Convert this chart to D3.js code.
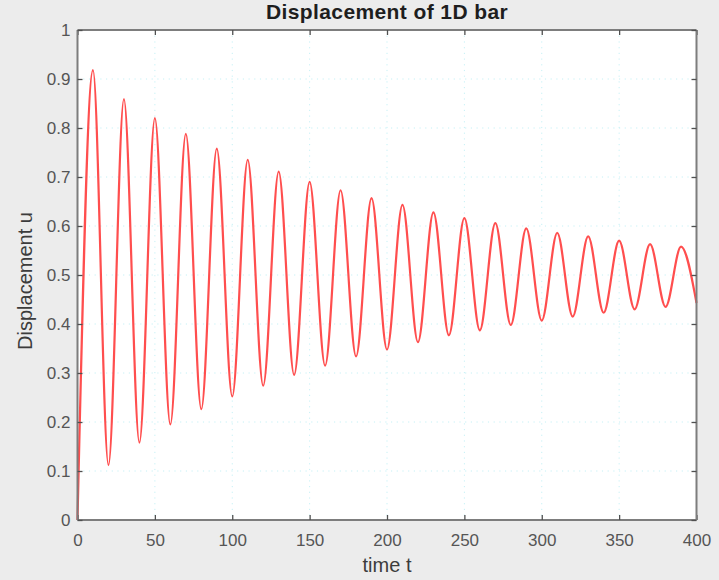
<!DOCTYPE html>
<html>
<head>
<meta charset="utf-8">
<script src="https://cdn.jsdelivr.net/npm/d3@7"></script>
<style>
  html, body { margin: 0; padding: 0; background: #ececec; }
  svg { display: block; }
  text { font-family: "Liberation Sans", Arial, Helvetica, sans-serif; }
</style>
</head>
<body>
<svg id="chart" width="719" height="580"></svg>
<script>
const time = [0, 10, 20, 30, 40, 50, 60, 70, 80, 90, 100, 110, 120, 130, 140, 150, 160, 170, 180, 190, 200,
              210, 220, 230, 240, 250, 260, 270, 280, 290, 300, 310, 320, 330, 340, 350, 360, 370, 380, 390, 400];
const displacement = [0.000, 0.918, 0.112, 0.859, 0.158, 0.820, 0.195, 0.788, 0.226, 0.758, 0.252,
                      0.735, 0.274, 0.711, 0.296, 0.690, 0.315, 0.673, 0.334, 0.657, 0.348,
                      0.643, 0.363, 0.628, 0.377, 0.616, 0.387, 0.606, 0.398, 0.595, 0.407,
                      0.586, 0.415, 0.579, 0.423, 0.570, 0.430, 0.563, 0.435, 0.558, 0.443];
const xTicks = [0, 50, 100, 150, 200, 250, 300, 350, 400];
const yTicks = [0, 0.1, 0.2, 0.3, 0.4, 0.5, 0.6, 0.7, 0.8, 0.9, 1];
const yTickLabels = ["0", "0.1", "0.2", "0.3", "0.4", "0.5", "0.6", "0.7", "0.8", "0.9", "1"];

const L = 77.5, R = 696.5, T = 30, B = 520;
const svg = d3.select("#chart");
const x = d3.scaleLinear().domain([0, 400]).range([L, R]);
const y = d3.scaleLinear().domain([0, 1]).range([B, T]);

// plot area
svg.append("rect").attr("x", L).attr("y", T).attr("width", R - L).attr("height", B - T).attr("fill", "#ffffff");

// grid
const grid = svg.append("g").attr("stroke", "#c6f0f5").attr("stroke-width", 1).attr("stroke-dasharray", "1.2,4.5");
grid.selectAll("line.gx").data(xTicks.slice(1, -1)).join("line")
  .attr("x1", d => x(d)).attr("x2", d => x(d)).attr("y1", T).attr("y2", B);
grid.selectAll("line.gy").data(yTicks.slice(1, -1)).join("line")
  .attr("y1", d => y(d)).attr("y2", d => y(d)).attr("x1", L).attr("x2", R);

// data line
const line = d3.line().x((d, i) => x(time[i])).y(d => y(d)).curve(d3.curveMonotoneX);
svg.append("path").datum(displacement)
  .attr("d", line).attr("fill", "none").attr("stroke", "#ff3535").attr("stroke-width", 2.2)
  .attr("stroke-linejoin", "round").attr("opacity", 0.88);

// axes (ticks inward, mirrored)
const tickLen = 5;
const axisColor = "#7d7d7d";
const gBottom = svg.append("g").attr("transform", `translate(0,${B})`)
  .call(d3.axisBottom(x).tickValues(xTicks).tickSize(-tickLen).tickPadding(13.5).tickFormat(d3.format("d")));
const gTop = svg.append("g").attr("transform", `translate(0,${T})`)
  .call(d3.axisTop(x).tickValues(xTicks).tickSize(-tickLen).tickFormat(""));
const gLeft = svg.append("g").attr("transform", `translate(${L},0)`)
  .call(d3.axisLeft(y).tickValues(yTicks).tickSize(-tickLen).tickPadding(7).tickFormat((d, i) => yTickLabels[i]));
const gRight = svg.append("g").attr("transform", `translate(${R},0)`)
  .call(d3.axisRight(y).tickValues(yTicks).tickSize(-tickLen).tickFormat(""));

[gBottom, gTop, gLeft, gRight].forEach(g => {
  g.select(".domain").attr("stroke", axisColor).attr("stroke-width", 2);
  g.selectAll(".tick line").attr("stroke", "#505050").attr("stroke-width", 1.3);
  g.selectAll(".tick text").attr("fill", "#555555").attr("font-size", 17)
    .attr("font-family", "'Liberation Sans', Arial, sans-serif");
});
gBottom.select(".domain").attr("d", `M${L},0H${R}`);
gTop.select(".domain").attr("d", `M${L},0H${R}`);
gLeft.select(".domain").attr("d", `M0,${B}V${T}`);
gRight.select(".domain").attr("d", `M0,${B}V${T}`);

// title and labels
svg.append("text").attr("x", (L + R) / 2).attr("y", 18.5).attr("text-anchor", "middle")
  .attr("font-size", 21).attr("font-weight", "bold").attr("letter-spacing", 0.4)
  .attr("fill", "#1e1e1e").text("Displacement of 1D bar");
svg.append("text").attr("x", 387).attr("y", 572).attr("text-anchor", "middle")
  .attr("font-size", 20).attr("fill", "#3c3c3c").text("time t");
svg.append("text").attr("transform", `translate(32,281) rotate(-90)`).attr("text-anchor", "middle")
  .attr("font-size", 20).attr("fill", "#3c3c3c").text("Displacement u");
</script>
</body>
</html>
